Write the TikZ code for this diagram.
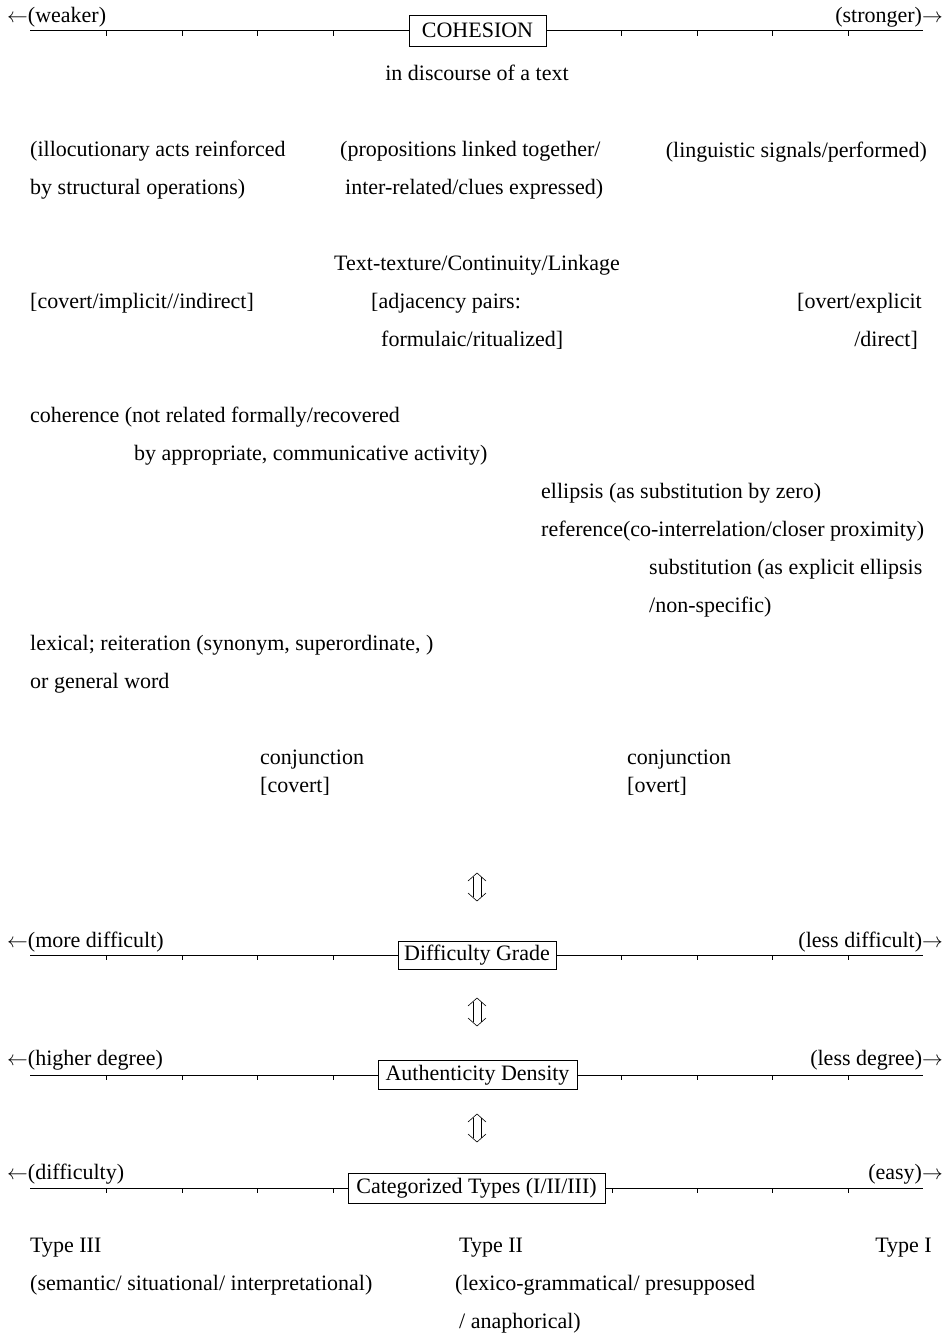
\documentclass[tikz,border=0pt]{standalone}
\usepackage{fontspec}
\setmainfont{Liberation Serif}
\begin{document}
\begin{tikzpicture}[x=1pt,y=-1pt,
  every node/.style={font=\fontsize{22}{26}\selectfont, inner sep=0pt},
  lbl/.style={anchor=base west},
  lblr/.style={anchor=base east},
  lblc/.style={anchor=base},
  scalebox/.style={draw, fill=white, line width=0.6pt, inner sep=0pt},
  scaleline/.style={line width=0.6pt},
  dblarrow/.pic={
    \draw[line width=0.6pt, line join=miter] (-9,-6) -- (0,-14) -- (9,-6);
    \draw[line width=0.6pt] (-4,-10) -- (-4,10) (4,-10) -- (4,10);
    \draw[line width=0.6pt, line join=miter] (-9,6) -- (0,14) -- (9,6);
  }]
\useasboundingbox (0,0) rectangle (950,1333);

% ---------- COHESION scale ----------
\node[scalebox, minimum width=137pt, minimum height=31pt] (cohesion) at (477.5,30.5) {COHESION};
\coordinate (c1L) at (30,30.5); \coordinate (c1R) at (923,30.5);
\draw[scaleline] (c1L) -- (cohesion.west) (cohesion.east) -- (c1R);
\foreach \x in {106,182,257,333,621,697,772,848} \draw[scaleline] (\x,30.5) -- ++(0,5);
\node[lbl] (weak) at (7,22) {$\leftarrow$(weaker)};
\node[lblr] (strong) at (943,22) {(stronger)$\rightarrow$};

\node[lblc] (disc) at (477,80) {in discourse of a text};

\node[lbl] (illo1) at (30,156) {(illocutionary acts reinforced};
\node[lbl] (illo2) at (30,194) {by structural operations)};
\node[lbl] (prop1) at (340,156) {(propositions linked together/};
\node[lbl] (prop2) at (345,194) {inter-related/clues expressed)};
\node[lblr] (ling) at (927,157) {(linguistic signals/performed)};

\node[lblc] (texture) at (477,270) {Text-texture/Continuity/Linkage};
\node[lbl] (covert) at (30,308) {[covert/implicit//indirect]};
\node[lbl] (adj1) at (371,308) {[adjacency pairs:};
\node[lbl] (adj2) at (381,346) {formulaic/ritualized]};
\node[lblr] (overt1) at (922,308) {[overt/explicit};
\node[lblr] (overt2) at (918,346) {/direct]};

\node[lbl] (coh1) at (30,422) {coherence (not related formally/recovered};
\node[lbl] (coh2) at (134,460) {by appropriate, communicative activity)};
\node[lbl] (ell) at (541,498) {ellipsis (as substitution by zero)};
\node[lbl] (ref) at (541,536) {reference(co-interrelation/closer proximity)};
\node[lbl] (sub1) at (649,574) {substitution (as explicit ellipsis};
\node[lbl] (sub2) at (649,612) {/non-specific)};
\node[lbl] (lex1) at (30,650) {lexical; reiteration (synonym, superordinate, )};
\node[lbl] (lex2) at (30,688) {or general word};

\node[lbl] (conjc1) at (260,764) {conjunction};
\node[lbl] (conjc2) at (260,792) {[covert]};
\node[lbl] (conjo1) at (627,764) {conjunction};
\node[lbl] (conjo2) at (627,792) {[overt]};

\pic at (477,887) {dblarrow};

% ---------- Difficulty scale ----------
\node[scalebox, minimum width=158pt, minimum height=28pt] (diff) at (477,955) {Difficulty Grade};
\coordinate (c2L) at (30,955); \coordinate (c2R) at (923,955);
\draw[scaleline] (c2L) -- (diff.west) (diff.east) -- (c2R);
\foreach \x in {106,182,257,333,621,697,772,848} \draw[scaleline] (\x,955) -- ++(0,5);
\node[lbl] (moredif) at (7,947) {$\leftarrow$(more difficult)};
\node[lblr] (lessdif) at (943,947) {(less difficult)$\rightarrow$};

\pic at (477,1012) {dblarrow};

% ---------- Authenticity scale ----------
\node[scalebox, minimum width=199pt, minimum height=29pt] (auth) at (477.5,1075) {Authenticity Density};
\coordinate (c3L) at (30,1075); \coordinate (c3R) at (923,1075);
\draw[scaleline] (c3L) -- (auth.west) (auth.east) -- (c3R);
\foreach \x in {106,182,257,333,621,697,772,848} \draw[scaleline] (\x,1075) -- ++(0,5);
\node[lbl] (higher) at (7,1065) {$\leftarrow$(higher degree)};
\node[lblr] (lessdeg) at (943,1065) {(less degree)$\rightarrow$};

\pic at (477,1128) {dblarrow};

% ---------- Categorized scale ----------
\node[scalebox, minimum width=257pt, minimum height=30pt] (cat) at (476.5,1188) {Categorized Types (I/II/III)};
\coordinate (c4L) at (30,1188); \coordinate (c4R) at (923,1188);
\draw[scaleline] (c4L) -- (cat.west) (cat.east) -- (c4R);
\foreach \x in {106,182,257,333,612,697,772,848} \draw[scaleline] (\x,1188) -- ++(0,5);
\node[lbl] (dif) at (7,1179) {$\leftarrow$(difficulty)};
\node[lblr] (easy) at (943,1179) {(easy)$\rightarrow$};

\node[lbl] (t3) at (30,1252) {Type III};
\node[lbl] (t3b) at (30,1290) {(semantic/ situational/ interpretational)};
\node[lbl] (t2) at (459,1252) {Type II};
\node[lbl] (t2b) at (455,1290) {(lexico-grammatical/ presupposed};
\node[lbl] (t2c) at (459,1328) {/ anaphorical)};
\node[lblr] (t1) at (932,1252) {Type I};
\end{tikzpicture}
\end{document}
